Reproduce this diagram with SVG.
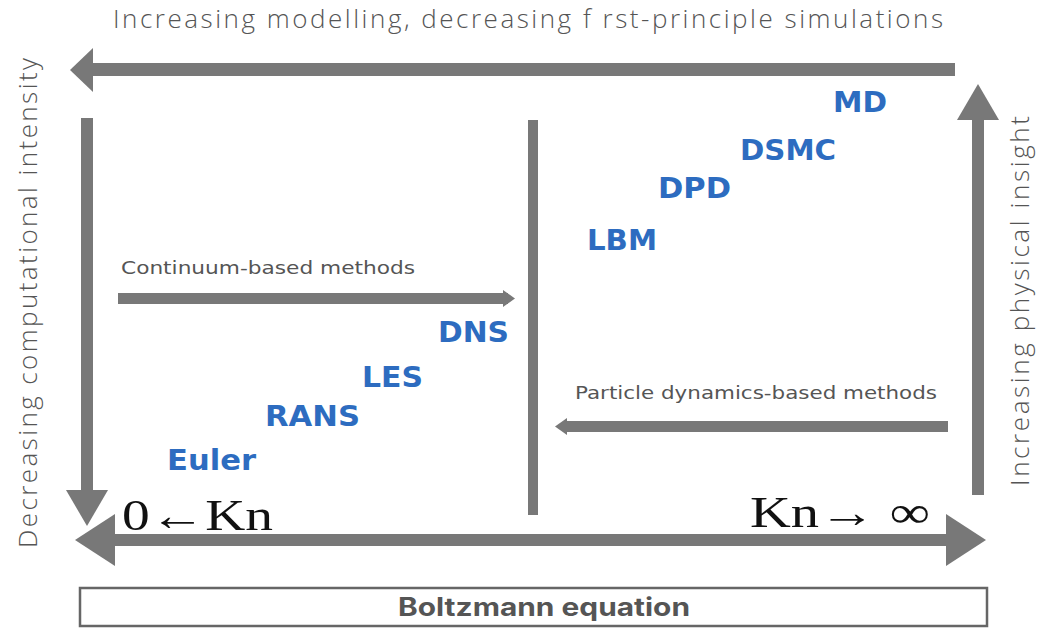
<svg xmlns="http://www.w3.org/2000/svg" width="1041" height="633" viewBox="0 0 1041 633">
<style>
.lbl{font-family:"Open Sans","DejaVu Sans",sans-serif;fill:#555;font-weight:300}
.m{font-family:"DejaVu Sans",sans-serif;font-weight:bold;fill:#2d6cc0;font-size:29px}
.sm{font-family:"DejaVu Sans",sans-serif;fill:#555;font-size:18px}
.kn{font-family:"Liberation Serif",serif;fill:#111;font-size:44px}
.ar{fill:#787878}
</style>
<rect width="1041" height="633" fill="#fff"/>
<g id="connectors">
  <rect class="ar" x="90" y="63" width="865" height="13"/>
  <polygon class="ar" points="70,70 93,48 93,92"/>
  <rect class="ar" x="81" y="118" width="12" height="375"/>
  <polygon class="ar" points="66,490 108,490 87,526"/>
  <rect class="ar" x="110" y="534" width="840" height="12"/>
  <polygon class="ar" points="75,540 115,514 115,566"/>
  <polygon class="ar" points="986,540 946,514 946,566"/>
  <rect class="ar" x="528" y="120" width="10" height="395"/>
  <rect class="ar" x="972" y="118" width="12" height="377"/>
  <polygon class="ar" points="978,84 957,120 999,120"/>
  <rect class="ar" x="118" y="293" width="390" height="11"/>
  <polygon class="ar" points="515,298.5 503,290 503,307"/>
  <rect class="ar" x="565" y="421" width="383" height="11"/>
  <polygon class="ar" points="555,426.5 567,418 567,435"/>
</g>
<g id="title"><text class="lbl" x="113" y="28" font-size="26" textLength="830" lengthAdjust="spacing">Increasing modelling, decreasing f rst-principle simulations</text></g>
<g id="left-label"><text class="lbl" transform="translate(37,548) rotate(-90)" font-size="26" textLength="490" lengthAdjust="spacing">Decreasing computational intensity</text></g>
<g id="right-label"><text class="lbl" transform="translate(1029,486) rotate(-90)" font-size="26" textLength="370" lengthAdjust="spacing">Increasing physical insight</text></g>
<g id="continuum"><text class="sm" x="121" y="274" textLength="294" lengthAdjust="spacingAndGlyphs">Continuum-based methods</text></g>
<g id="particle"><text class="sm" x="575" y="399" textLength="362" lengthAdjust="spacingAndGlyphs">Particle dynamics-based methods</text></g>
<g id="DNS"><text class="m" x="438" y="342" textLength="71" lengthAdjust="spacingAndGlyphs">DNS</text></g>
<g id="LES"><text class="m" x="362" y="387" textLength="61" lengthAdjust="spacingAndGlyphs">LES</text></g>
<g id="RANS"><text class="m" x="265" y="426" textLength="95" lengthAdjust="spacingAndGlyphs">RANS</text></g>
<g id="Euler"><text class="m" x="167" y="470" textLength="89" lengthAdjust="spacingAndGlyphs">Euler</text></g>
<g id="MD"><text class="m" x="833" y="112" textLength="54" lengthAdjust="spacingAndGlyphs">MD</text></g>
<g id="DSMC"><text class="m" x="740" y="160" textLength="96" lengthAdjust="spacingAndGlyphs">DSMC</text></g>
<g id="DPD"><text class="m" x="658" y="198" textLength="73" lengthAdjust="spacingAndGlyphs">DPD</text></g>
<g id="LBM"><text class="m" x="587" y="250" textLength="70" lengthAdjust="spacingAndGlyphs">LBM</text></g>
<g id="kn-left"><text class="kn" x="122" y="530" textLength="151" lengthAdjust="spacingAndGlyphs">0←Kn</text></g>
<g id="kn-right"><text class="kn" x="750" y="527" textLength="180" lengthAdjust="spacingAndGlyphs">Kn→ ∞</text></g>
<g id="boltzmann">
  <rect x="80" y="588" width="907" height="38" fill="#fff" stroke="#666" stroke-width="2.5"/>
  <text x="398" y="616" textLength="292" lengthAdjust="spacingAndGlyphs" font-family="Inter,'Open Sans',sans-serif" font-weight="700" font-size="25" fill="#555">Boltzmann equation</text>
</g>
</svg>
